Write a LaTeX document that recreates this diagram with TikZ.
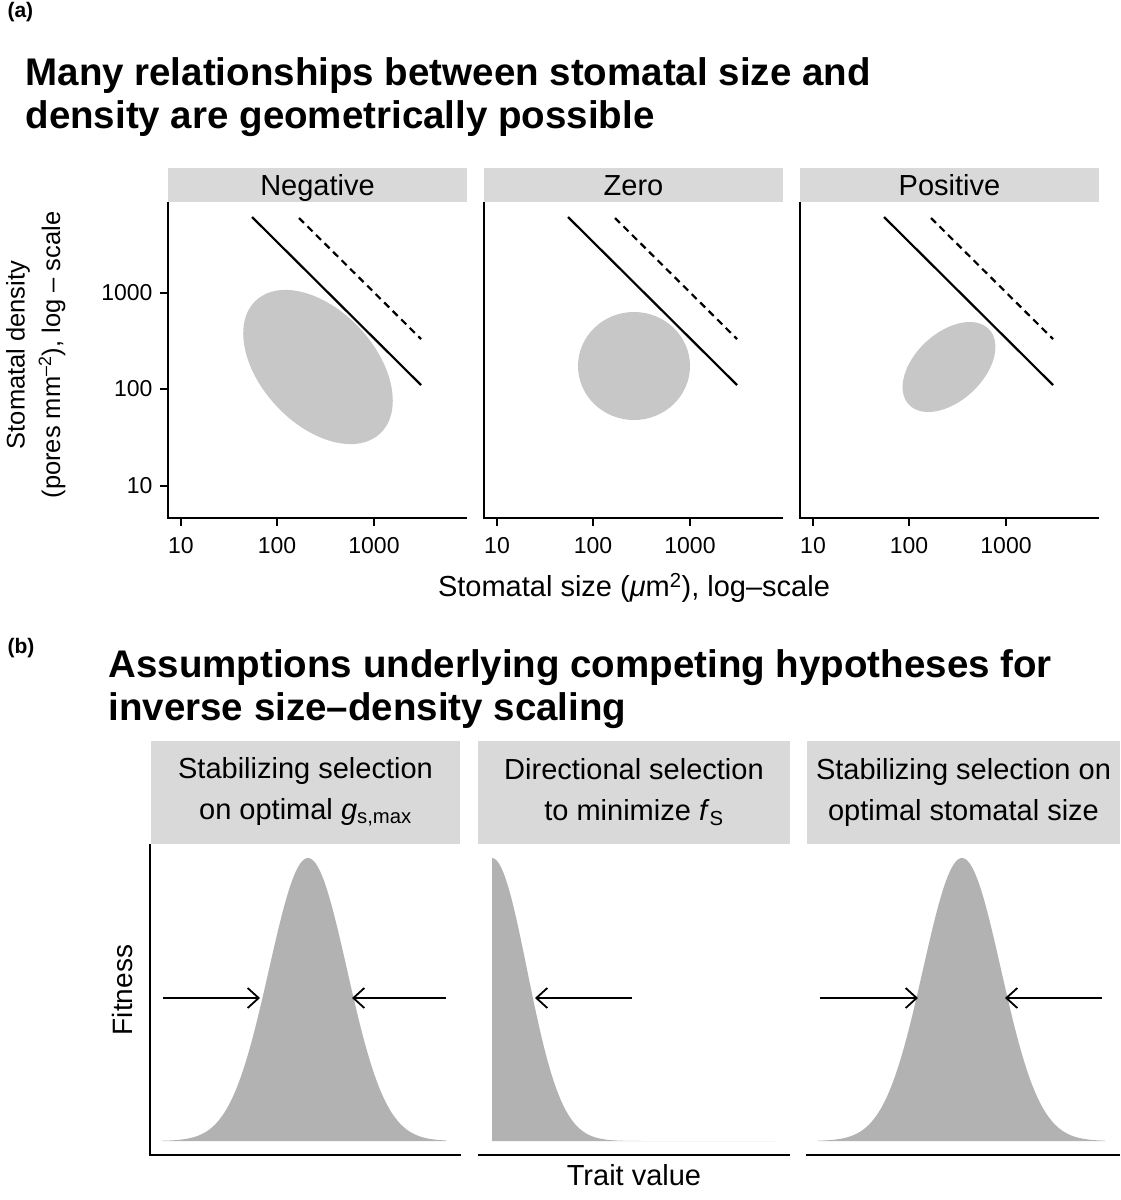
\documentclass[tikz,border=0pt]{standalone}
\usepackage{fontspec}
\setmainfont{Liberation Sans}
\usetikzlibrary{arrows.meta}
\begin{document}
\begin{tikzpicture}[x=1pt,y=-1pt,
  strip/.style={fill=black!15,draw=none},
  ax/.style={line width=1.8pt},
  tk/.style={font=\fontsize{23}{26}\selectfont},
  striptxt/.style={font=\fontsize{29}{34}\selectfont,align=center},
  ttl/.style={font=\bfseries\fontsize{38.5}{43}\selectfont,align=left,anchor=north west},
  blob/.style={fill=black!22},
  curve/.style={fill=black!30},
  arr/.style={line width=1.8pt,-{Straight Barb[length=11pt,width=20pt,line width=1.8pt]}},
  lbl/.style={font=\fontsize{29}{32}\selectfont},
  ylbl/.style={font=\fontsize{25.5}{30}\selectfont,rotate=90}]
\useasboundingbox (0,0) rectangle (1120,1200);
\node[anchor=west,font=\bfseries\fontsize{21}{24}\selectfont] (la) at (4,12) {(a)};
\node[ttl] (ta) at (22,54) {Many relationships between stomatal size and\\density are geometrically possible};
\foreach \ox/\lab/\i in {0/Negative/1,316/Zero/2,632/Positive/3}{
  \begin{scope}[xshift=\ox]
  \fill[strip] (168,168) rectangle (467,202);
  \node[striptxt,anchor=base] (s\i) at (317.5,195) {\lab};
  \draw[ax] (168,202) -- (168,518) -- (467,518);
  \foreach \xx/\t in {181/10,277/100,374/1000}{
    \draw[line width=1.5pt] (\xx,518) -- (\xx,526);
    \node[tk] at (\xx,546) {\t};}
  \draw[line width=2.2pt] (252,217) -- (421,385);
  \draw[line width=2.2pt,dash pattern=on 7pt off 5pt] (299,218) -- (421,339);
  \end{scope}}
\foreach \yy/\t in {293/1000,389/100,486/10}{
  \draw[line width=1.5pt] (160,\yy) -- (168,\yy);
  \node[tk,anchor=east] at (156,\yy) {\t};}
\fill[blob,rotate around={-47:(318,367)}] (318,367) ellipse (91 and 57);
\fill[blob] (634,366) ellipse (56 and 54);
\fill[blob,rotate around={43:(949,367)}] (949,367) ellipse (55 and 34);
\node[ylbl] (ya1) at (18,355) {Stomatal density};
\node[ylbl] (ya2) at (52,355) {(pores mm\textsuperscript{–2}), log – scale};
\node[lbl] (xa) at (634,588) {Stomatal size (\textit{μ}m\textsuperscript{2}), log–scale};
% (b)
\node[anchor=west,font=\bfseries\fontsize{21}{24}\selectfont] (lb) at (4,648) {(b)};
\node[ttl] (tb) at (105,646) {Assumptions underlying competing hypotheses for\\inverse size–density scaling};
\fill[strip] (151,741) rectangle (460,844);
\fill[strip] (478,741) rectangle (790,844);
\fill[strip] (807,741) rectangle (1120,844);
\node[striptxt,font=\fontsize{29}{41}\selectfont] (b1) at (305.5,792) {Stabilizing selection\\on optimal \textit{g}\textsubscript{s,max}};
\node[striptxt,font=\fontsize{29}{41}\selectfont] (b2) at (634,792) {Directional selection\\to minimize \textit{f}\textsubscript{S}};
\node[striptxt,font=\fontsize{29}{41}\selectfont] (b3) at (963.5,792) {Stabilizing selection on\\optimal stomatal size};
\fill[curve] (162,1141) -- plot[domain=162:446,samples=120] (\x,{1141-283*exp(-((\x-308)/39)^2/2)}) -- (446,1141) -- cycle;
\fill[curve] (492,1141) -- plot[domain=492:775,samples=120] (\x,{1141-283*exp(-((\x-492)/35)^2/2)}) -- (775,1141) -- cycle;
\fill[curve] (818,1141) -- plot[domain=818:1105,samples=120] (\x,{1141-283*exp(-((\x-962)/39)^2/2)}) -- (1105,1141) -- cycle;
\draw[ax] (150,844) -- (150,1155) -- (461,1155);
\draw[ax] (478,1155) -- (790,1155);
\draw[ax] (806,1155) -- (1120,1155);
\coordinate (a1s) at (163,998); \coordinate (a1e) at (260,998);
\coordinate (a2s) at (446,998); \coordinate (a2e) at (352,998);
\coordinate (a3s) at (632,998); \coordinate (a3e) at (535,998);
\coordinate (a4s) at (820,998); \coordinate (a4e) at (918,998);
\coordinate (a5s) at (1102,998); \coordinate (a5e) at (1005,998);
\foreach \a in {a1,a2,a3,a4,a5}{\draw[arr] (\a s) -- (\a e);}
\node[ylbl,font=\fontsize{28}{32}\selectfont] (fit) at (122,990) {Fitness};
\node[lbl] (tv) at (634,1175) {Trait value};
\end{tikzpicture}
\end{document}
